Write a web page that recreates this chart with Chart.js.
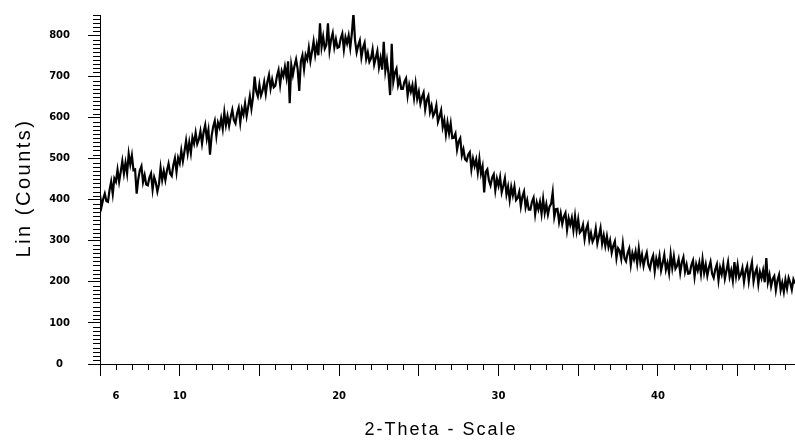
<!DOCTYPE html>
<html>
<head>
<meta charset="utf-8">
<script src="https://cdn.jsdelivr.net/npm/chart.js@4.4.1/dist/chart.umd.min.js"></script>
<style>
    body { margin: 0; background: #fff; }
</style>
</head>
<body>
<canvas id="xrd" width="795" height="445"></canvas>
<script>
// scan: 2-theta from 5.0 deg, one reading every 0.1 deg
var angleStart = 5.0;
var angleStep = 0.1;
var counts = [
    412, 384, 402, 415, 397, 395, 424, 444, 414, 452,
    444, 473, 444, 468, 494, 464, 490, 464, 512, 486,
    508, 472, 474, 415, 450, 472, 482, 443, 460, 437,
    435, 454, 464, 425, 455, 442, 420, 438, 478, 448,
    470, 448, 471, 488, 464, 458, 484, 501, 468, 502,
    489, 520, 494, 518, 544, 513, 540, 514, 552, 537,
    563, 536, 547, 567, 537, 565, 582, 549, 570, 510,
    555, 578, 592, 556, 588, 576, 598, 573, 613, 582,
    604, 580, 602, 619, 594, 586, 610, 624, 588, 621,
    607, 634, 604, 627, 652, 622, 650, 700, 664, 652,
    680, 654, 666, 687, 658, 687, 704, 671, 693, 674,
    678, 701, 716, 680, 713, 701, 724, 698, 737, 635,
    728, 704, 726, 742, 718, 665, 737, 752, 718, 753,
    742, 770, 738, 761, 786, 753, 778, 752, 830, 772,
    797, 768, 777, 830, 764, 791, 806, 771, 791, 770,
    772, 793, 805, 766, 796, 781, 800, 770, 805, 855,
    788, 759, 776, 788, 747, 770, 782, 743, 759, 736,
    744, 766, 729, 745, 762, 723, 745, 717, 785, 714,
    740, 706, 655, 780, 687, 709, 719, 679, 694, 670,
    670, 688, 696, 654, 680, 663, 679, 648, 682, 646,
    663, 634, 650, 661, 620, 643, 653, 614, 629, 604,
    612, 630, 590, 603, 618, 577, 594, 559, 588, 562,
    586, 550, 551, 561, 522, 542, 550, 508, 523, 499,
    495, 510, 516, 474, 500, 482, 498, 467, 500, 464,
    481, 418, 468, 474, 447, 435, 454, 462, 423, 451,
    434, 455, 418, 434, 452, 413, 432, 400, 431, 411,
    432, 399, 404, 419, 384, 408, 420, 382, 399, 376,
    376, 395, 405, 365, 393, 377, 395, 366, 402, 368,
    389, 364, 383, 390, 418, 358, 377, 378, 346, 367,
    341, 359, 368, 327, 355, 339, 356, 326, 360, 325,
    352, 320, 325, 339, 304, 328, 340, 302, 319, 298,
    307, 330, 294, 312, 331, 293, 313, 288, 311, 285,
    301, 271, 288, 299, 258, 282, 276, 256, 293, 258,
    250, 270, 281, 242, 270, 255, 274, 245, 281, 247,
    266, 239, 258, 271, 242, 232, 253, 264, 226, 256,
    240, 263, 228, 246, 266, 230, 246, 222, 267, 234,
    262, 232, 239, 255, 222, 247, 260, 225, 242, 220,
    221, 241, 252, 213, 243, 228, 247, 219, 255, 222,
    242, 215, 235, 249, 220, 210, 231, 243, 204, 235,
    219, 243, 208, 227, 248, 212, 228, 203, 248, 214,
    241, 210, 218, 234, 200, 226, 239, 202, 230, 248,
    201, 222, 233, 195, 224, 209, 228, 199, 258, 199,
    217, 189, 207, 214, 180, 204, 217, 180, 198, 176,
    205, 184, 210, 198, 181, 206, 196
];
var xLabels = [6, 10, 20, 30, 40];
var yLabels = [0, 100, 200, 300, 400, 500, 600, 700, 800];
var xTitle = '2-Theta - Scale';
var yTitle = 'Lin (Counts)';

var points = counts.map(function (c, i) {
    return { x: Math.round((angleStart + i * angleStep) * 10) / 10, y: c };
});

function isMajorX(v) { return Math.abs(v % 5) < 1e-6; }
function isMajorY(v) { return v % 100 === 0; }

// short minor ticks and the two axis titles
var axisExtras = {
    id: 'axisExtras',
    afterDraw: function (chart) {
        var ctx = chart.ctx;
        var xs = chart.scales.x, ys = chart.scales.y;
        ctx.save();
        ctx.strokeStyle = '#000';
        ctx.lineWidth = 1;
        ctx.beginPath();
        xs.ticks.forEach(function (t) {
            if (!isMajorX(t.value)) {
                var px = Math.round(xs.getPixelForValue(t.value)) + 0.5;
                ctx.moveTo(px, xs.top);
                ctx.lineTo(px, xs.top + 6);
            }
        });
        ys.ticks.forEach(function (t) {
            if (!isMajorY(t.value)) {
                var py = Math.round(ys.getPixelForValue(t.value)) + 0.5;
                ctx.moveTo(ys.right, py);
                ctx.lineTo(ys.right - 7, py);
            }
        });
        ctx.stroke();

        ctx.fillStyle = '#000';
        ctx.textAlign = 'center';
        ctx.textBaseline = 'middle';
        ctx.font = '18px "Liberation Sans", Arial, sans-serif';
        ctx.letterSpacing = '2px';
        ctx.fillText(xTitle, 441, 430);
        ctx.translate(24, 188);
        ctx.rotate(-Math.PI / 2);
        ctx.font = '20px "Liberation Sans", Arial, sans-serif';
        ctx.letterSpacing = '2.5px';
        ctx.fillText(yTitle, 0, 0);
        ctx.restore();
    }
};

var tickFont = { family: '"DejaVu Sans", sans-serif', size: 10, weight: 'bold' };

new Chart(document.getElementById('xrd'), {
    type: 'line',
    data: {
        datasets: [{
            data: points,
            borderColor: '#000',
            borderWidth: 2.2,
            pointRadius: 0,
            tension: 0,
            fill: false
        }]
    },
    options: {
        responsive: false,
        animation: false,
        devicePixelRatio: 1,
        layout: { padding: { top: 15, right: 0, left: 0, bottom: 0 } },
        plugins: { legend: { display: false }, tooltip: { enabled: false } },
        scales: {
            x: {
                type: 'linear',
                min: 5,
                max: 48.6,
                afterFit: function (scale) {
                    scale.height = 81;
                    scale.paddingLeft = 0;
                    scale.paddingRight = 0;
                },
                border: { display: true, color: '#000', width: 1 },
                grid: {
                    drawOnChartArea: false,
                    tickLength: 12,
                    tickColor: function (c) { return isMajorX(c.tick.value) ? '#000' : 'rgba(0,0,0,0)'; }
                },
                ticks: {
                    stepSize: 1,
                    includeBounds: false,
                    autoSkip: false,
                    maxRotation: 0,
                    padding: 14,
                    color: '#000',
                    font: tickFont,
                    callback: function (v) { return xLabels.indexOf(v) >= 0 ? String(v) : ''; }
                }
            },
            y: {
                min: 0,
                max: 850,
                afterFit: function (scale) {
                    scale.width = 100;
                    scale.paddingTop = 0;
                    scale.paddingBottom = 0;
                },
                border: { display: true, color: '#000', width: 1 },
                grid: {
                    drawOnChartArea: false,
                    tickLength: 12,
                    tickColor: function (c) { return isMajorY(c.tick.value) ? '#000' : 'rgba(0,0,0,0)'; }
                },
                ticks: {
                    stepSize: 10,
                    autoSkip: false,
                    crossAlign: 'center',
                    padding: 18,
                    color: '#000',
                    font: tickFont,
                    callback: function (v) { return yLabels.indexOf(v) >= 0 ? String(v) : ''; }
                }
            }
        }
    },
    plugins: [axisExtras]
});
</script>
</body>
</html>
